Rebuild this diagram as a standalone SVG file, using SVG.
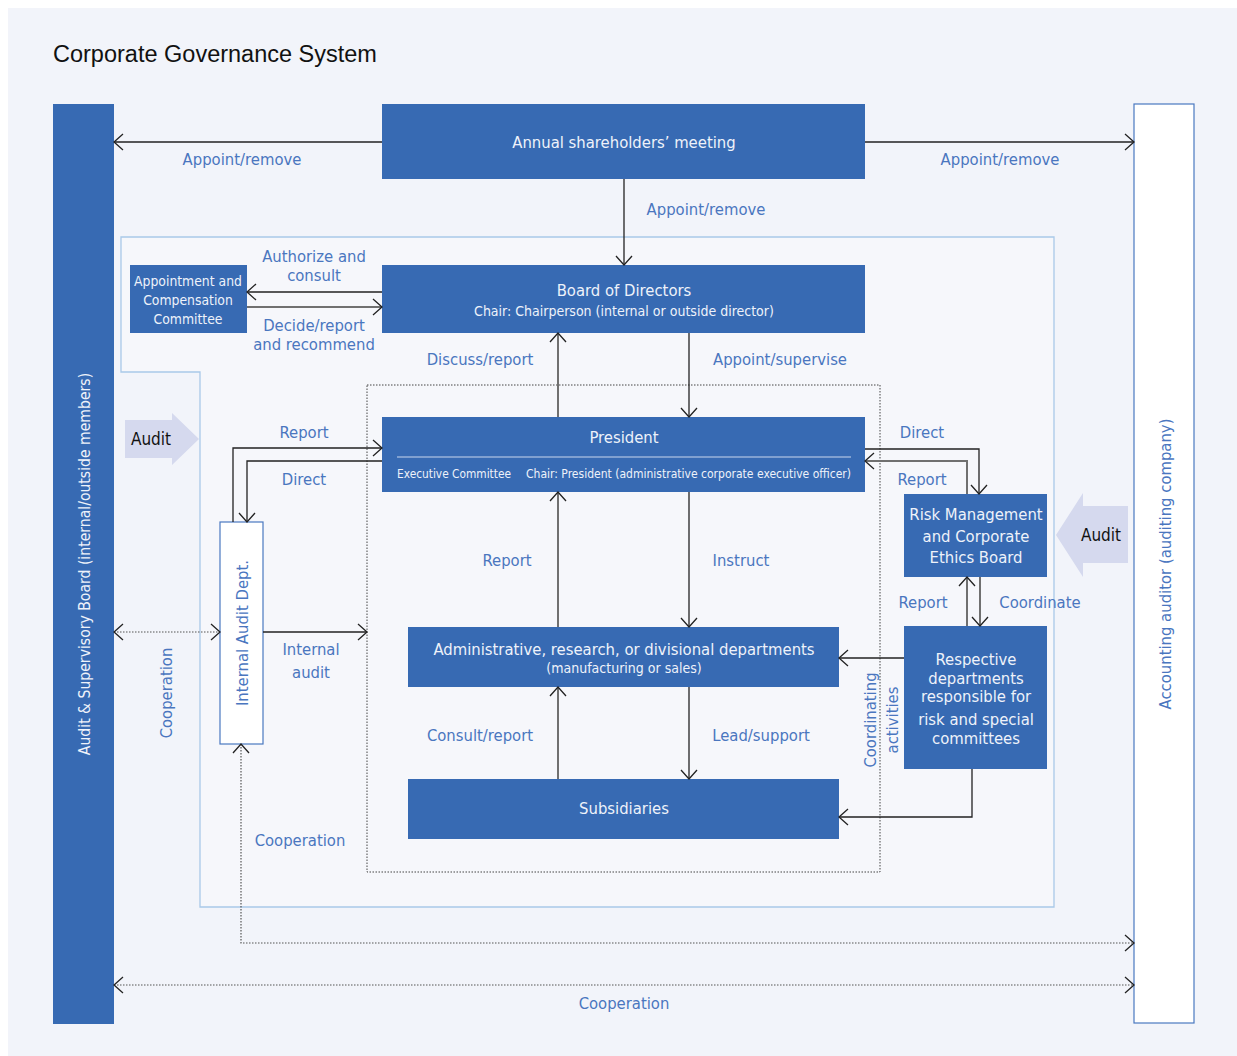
<svg xmlns="http://www.w3.org/2000/svg" width="1237" height="1056" viewBox="0 0 1237 1056">
<defs>
<style>
text{font-family:"Liberation Sans Narrow","DejaVu Sans Condensed","Roboto Condensed","Liberation Sans",sans-serif;}
.title{font-family:"Liberation Sans",Arial,sans-serif;font-size:23.5px;fill:#111;}
.box{fill:#376ab3;}
.wbox{fill:#ffffff;stroke:#4a78c0;stroke-width:1.2;}
.bt{fill:#eef2fa;font-size:16.5px;text-anchor:middle;}
.bs{fill:#eef2fa;font-size:14px;text-anchor:middle;}
.bl{fill:#eef2fa;font-size:13px;text-anchor:start;}
.lbl{fill:#4a76bf;font-size:16.5px;text-anchor:middle;}
.blk{fill:#111;font-size:17px;text-anchor:middle;}
.ln{fill:none;stroke:#222;stroke-width:1.3;}
.lg{fill:none;stroke:#707070;stroke-width:2;}
.dot{fill:none;stroke:#555;stroke-width:1.2;stroke-dasharray:1.5 1.5;}
.auditarrow{fill:#d5d9ee;}
</style>
<marker id="ah" viewBox="-10 -10 12 20" markerWidth="12" markerHeight="20" refX="0" refY="0" orient="auto-start-reverse" markerUnits="userSpaceOnUse">
<path d="M-9,-8 L0,0 L-9,8" fill="none" stroke="#222" stroke-width="1.3"/>
</marker>
</defs>
<rect x="0" y="0" width="1237" height="1056" fill="#ffffff"/>
<rect x="8" y="8" width="1229" height="1048" fill="#f2f4fa"/>
<text class="title" x="53" y="62">Corporate Governance System</text>

<g id="inner-region">
<path d="M121,237 H1054 V907 H200 V372 H121 Z" fill="#f6f7fb" stroke="#a9c9e9" stroke-width="1.3"/>
</g>
<g id="executive-region">
<rect x="367" y="385" width="513" height="487" fill="none" stroke="#444" stroke-width="1" stroke-dasharray="1.5 1.5"/>
</g>

<g id="audit-board">
<rect class="box" x="53" y="104" width="61" height="920"/>
<text class="bt" transform="translate(90,564) rotate(-90)" style="font-size:15.6px">Audit &amp; Supervisory Board (internal/outside members)</text>
</g>
<g id="accounting-auditor">
<rect class="wbox" x="1134" y="104" width="60" height="919"/>
<text class="lbl" transform="translate(1171,564) rotate(-90)">Accounting auditor (auditing company)</text>
</g>
<g id="shareholders">
<rect class="box" x="382" y="104" width="483" height="75"/>
<text class="bt" x="624" y="148">Annual shareholders’ meeting</text>
</g>
<g id="appointment-committee">
<rect class="box" x="130" y="265" width="117" height="68"/>
<text class="bs" x="188" y="286" style="font-size:13.8px">Appointment and</text>
<text class="bs" x="188" y="305" style="font-size:13.8px">Compensation</text>
<text class="bs" x="188" y="324" style="font-size:13.8px">Committee</text>
</g>
<g id="board">
<rect class="box" x="382" y="265" width="483" height="68"/>
<text class="bt" x="624" y="296">Board of Directors</text>
<text class="bs" x="624" y="316">Chair: Chairperson (internal or outside director)</text>
</g>
<g id="president">
<rect class="box" x="382" y="417" width="483" height="75"/>
<text class="bt" x="624" y="443">President</text>
<line x1="397" y1="457" x2="851" y2="457" stroke="#c9d6ee" stroke-width="1.2"/>
<text class="bl" x="397" y="478" textLength="114" lengthAdjust="spacingAndGlyphs">Executive Committee</text>
<text class="bl" x="526" y="478" textLength="325" lengthAdjust="spacingAndGlyphs">Chair: President (administrative corporate executive officer)</text>
</g>
<g id="internal-audit">
<rect class="wbox" x="220" y="522" width="43" height="222"/>
<text class="lbl" transform="translate(248,633) rotate(-90)">Internal Audit Dept.</text>
</g>
<g id="risk-board">
<rect class="box" x="904" y="494" width="143" height="83"/>
<text class="bt" x="976" y="520">Risk Management</text>
<text class="bt" x="976" y="542">and Corporate</text>
<text class="bt" x="976" y="563">Ethics Board</text>
</g>
<g id="respective-departments">
<rect class="box" x="904" y="626" width="143" height="143"/>
<text class="bt" x="976" y="665">Respective</text>
<text class="bt" x="976" y="684">departments</text>
<text class="bt" x="976" y="702">responsible for</text>
<text class="bt" x="976" y="725">risk and special</text>
<text class="bt" x="976" y="744">committees</text>
</g>
<g id="departments">
<rect class="box" x="408" y="627" width="431" height="60"/>
<text class="bt" x="624" y="655">Administrative, research, or divisional departments</text>
<text class="bs" x="624" y="673">(manufacturing or sales)</text>
</g>
<g id="subsidiaries">
<rect class="box" x="408" y="779" width="431" height="60"/>
<text class="bt" x="624" y="814">Subsidiaries</text>
</g>
<g id="audit-arrow-left">
<path class="auditarrow" d="M125,420 H172 V413 L199,439 L172,465 V458 H125 Z"/>
<text class="blk" x="151" y="445">Audit</text>
</g>
<g id="audit-arrow-right">
<path class="auditarrow" d="M1128,506 H1083 V493 L1056,535 L1083,577 V563 H1128 Z"/>
<text class="blk" x="1101" y="541">Audit</text>
</g>

<g id="connectors">
<line class="ln" x1="382" y1="142" x2="114" y2="142" marker-end="url(#ah)"/>
<line class="ln" x1="865" y1="142" x2="1134" y2="142" marker-end="url(#ah)"/>
<line class="ln" x1="624" y1="179" x2="624" y2="265" marker-end="url(#ah)"/>
<line class="ln" x1="382" y1="292" x2="247" y2="292" marker-end="url(#ah)"/>
<line class="lg" x1="247" y1="307" x2="382" y2="307" marker-end="url(#ah)"/>
<line class="lg" x1="558" y1="417" x2="558" y2="333" marker-end="url(#ah)"/>
<line class="ln" x1="689" y1="333" x2="689" y2="417" marker-end="url(#ah)"/>
<path class="ln" d="M233,522 V448 H382" marker-end="url(#ah)"/>
<path class="ln" d="M382,461 H247 V522" marker-end="url(#ah)"/>
<line class="ln" x1="263" y1="632" x2="367" y2="632" marker-end="url(#ah)"/>
<line class="dot" x1="114" y1="632" x2="220" y2="632" marker-start="url(#ah)" marker-end="url(#ah)"/>
<path class="dot" d="M241,744 V943 H1134" marker-start="url(#ah)" marker-end="url(#ah)"/>
<line class="dot" x1="114" y1="985" x2="1134" y2="985" marker-start="url(#ah)" marker-end="url(#ah)"/>
<path class="ln" d="M865,449 H979 V494" marker-end="url(#ah)"/>
<path class="lg" d="M967,494 V461 H865" marker-end="url(#ah)"/>
<line class="lg" x1="967" y1="626" x2="967" y2="577" marker-end="url(#ah)"/>
<line class="lg" x1="980" y1="577" x2="980" y2="626" marker-end="url(#ah)"/>
<line class="ln" x1="904" y1="658" x2="839" y2="658" marker-end="url(#ah)"/>
<path class="ln" d="M972,769 V817 H839" marker-end="url(#ah)"/>
<line class="lg" x1="558" y1="627" x2="558" y2="492" marker-end="url(#ah)"/>
<line class="ln" x1="689" y1="492" x2="689" y2="627" marker-end="url(#ah)"/>
<line class="lg" x1="558" y1="779" x2="558" y2="687" marker-end="url(#ah)"/>
<line class="ln" x1="689" y1="687" x2="689" y2="779" marker-end="url(#ah)"/>

<text class="lbl" x="242" y="165">Appoint/remove</text>
<text class="lbl" x="1000" y="165">Appoint/remove</text>
<text class="lbl" x="706" y="215">Appoint/remove</text>
<text class="lbl" x="314" y="262">Authorize and</text>
<text class="lbl" x="314" y="281">consult</text>
<text class="lbl" x="314" y="331">Decide/report</text>
<text class="lbl" x="314" y="350">and recommend</text>
<text class="lbl" x="480" y="365">Discuss/report</text>
<text class="lbl" x="780" y="365">Appoint/supervise</text>
<text class="lbl" x="304" y="438">Report</text>
<text class="lbl" x="304" y="485">Direct</text>
<text class="lbl" x="311" y="655">Internal</text>
<text class="lbl" x="311" y="678">audit</text>
<text class="lbl" transform="translate(172,693) rotate(-90)">Cooperation</text>
<text class="lbl" x="300" y="846">Cooperation</text>
<text class="lbl" x="624" y="1009">Cooperation</text>
<text class="lbl" x="922" y="438">Direct</text>
<text class="lbl" x="922" y="485">Report</text>
<text class="lbl" x="923" y="608">Report</text>
<text class="lbl" x="1040" y="608">Coordinate</text>
<text class="lbl" x="507" y="566">Report</text>
<text class="lbl" x="741" y="566">Instruct</text>
<text class="lbl" x="480" y="741">Consult/report</text>
<text class="lbl" x="761" y="741">Lead/support</text>
<text class="lbl" transform="translate(876,720) rotate(-90)">Coordinating</text>
<text class="lbl" transform="translate(898,720) rotate(-90)">activities</text>
</g>
</svg>
